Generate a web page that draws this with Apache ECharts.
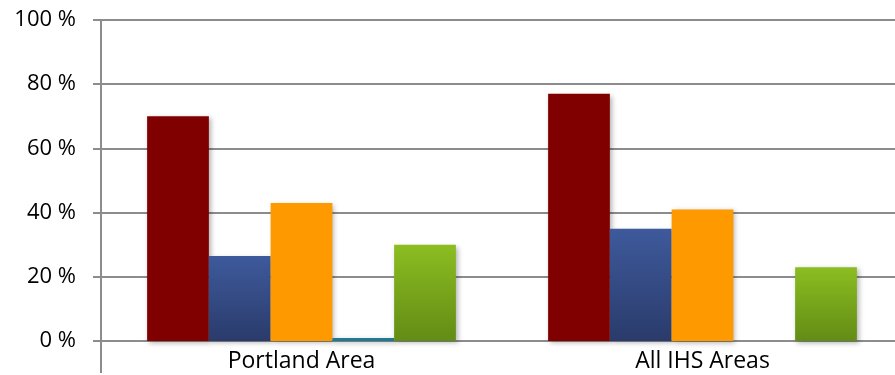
<!DOCTYPE html>
<html>
<head>
<meta charset="utf-8">
<script src="https://cdn.jsdelivr.net/npm/echarts@6/dist/echarts.min.js"></script>
<style>
  html, body { margin: 0; padding: 0; background: #ffffff; overflow: hidden; }
  #chart { width: 905px; height: 375px; }
</style>
</head>
<body>
<div id="chart"></div>
<script>
// data
const categories = ["Portland Area", "All IHS Areas"];
const redValues = [70, 77];
const blueValues = [26.5, 35];
const orangeValues = [43, 41];
const tealValues = [0.9, 0];
const greenValues = [30, 23];
const yTicks = [0, 20, 40, 60, 80, 100];

// plot runs a little past the right edge of the window, like the original
const chart = echarts.init(document.getElementById("chart"));

const shadow = {
  shadowBlur: 5,
  shadowColor: "rgba(0, 0, 0, 0.3)",
  shadowOffsetX: 2,
  shadowOffsetY: 2,
};

function vGrad(top, bottom) {
  return new echarts.graphic.LinearGradient(0, 0, 0, 1, [
    { offset: 0, color: top },
    { offset: 1, color: bottom },
  ]);
}

function bar(name, data, color) {
  return {
    name: name,
    type: "bar",
    data: data,
    barGap: "0%",
    barCategoryGap: "23%",
    itemStyle: { color: color, ...shadow },
    emphasis: { disabled: true },
  };
}

chart.setOption({
  animation: false,
  grid: {
    left: 101,
    right: 2,
    top: 20,
    bottom: 34,
    containLabel: false,
  },
  xAxis: {
    type: "category",
    data: categories,
    axisLine: {
      show: true,
      lineStyle: { color: "#8c8c8c", width: 2 },
    },
    axisTick: {
      show: true,
      length: 32,
      interval: (index) => index === 0,
      lineStyle: { color: "#8c8c8c", width: 2 },
    },
    axisLabel: {
      color: "#000000",
      fontSize: 23,
      fontFamily: "Open Sans",
      margin: 9,
    },
  },
  yAxis: {
    type: "value",
    min: yTicks[0],
    max: yTicks[yTicks.length - 1],
    interval: yTicks[1] - yTicks[0],
    axisLine: {
      show: true,
      lineStyle: { color: "#8c8c8c", width: 2 },
    },
    axisTick: {
      show: true,
      length: 8,
      lineStyle: { color: "#8c8c8c", width: 2 },
    },
    axisLabel: {
      formatter: "{value} %",
      color: "#000000",
      fontSize: 22,
      fontFamily: "Open Sans",
      margin: 25,
    },
    splitLine: {
      show: true,
      lineStyle: { color: "#8c8c8c", width: 2 },
    },
  },
  series: [
    bar("Red", redValues, "#800000"),
    bar("Blue", blueValues, vGrad("#3e5a9c", "#2a3b6b")),
    bar("Orange", orangeValues, "#ff9900"),
    bar("Teal", tealValues, "#1f7a93"),
    bar("Green", greenValues, vGrad("#8cbd21", "#628c15")),
  ],
});
</script>
</body>
</html>
